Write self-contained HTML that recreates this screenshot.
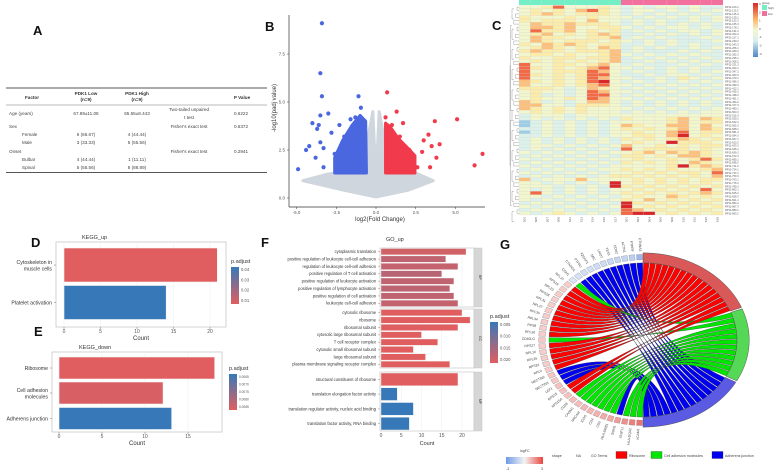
<!DOCTYPE html>
<html><head><meta charset="utf-8"><style>
html,body{margin:0;padding:0;background:#fff;}
svg{display:block;font-family:"Liberation Sans",sans-serif;}
</style></head><body>
<svg id="fig" width="774" height="471" viewBox="0 0 774 471">
<rect width="774" height="471" fill="#fff"/>
<g font-weight="bold" font-size="13" fill="#111">
<text x="33" y="35">A</text>
<text x="265" y="31">B</text>
<text x="492" y="30">C</text>
<text x="31" y="247">D</text>
<text x="34" y="336">E</text>
<text x="261" y="247">F</text>
<text x="500" y="249">G</text>
</g>
<g id="tableA" font-size="4.6" fill="#444">
<line x1="6" y1="88" x2="267" y2="88" stroke="#555" stroke-width="1"/>
<line x1="6" y1="105" x2="267" y2="105" stroke="#777" stroke-width="0.5"/>
<line x1="6" y1="172.5" x2="267" y2="172.5" stroke="#555" stroke-width="1"/>
<g font-weight="bold" text-anchor="middle" fill="#333">
<text x="32" y="99">Factor</text>
<text x="86" y="95">PDK1 Low</text><text x="86" y="101">(n=9)</text>
<text x="137" y="95">PDK1 High</text><text x="137" y="101">(n=9)</text>
<text x="242" y="99">P Value</text>
</g>
<text x="9" y="115">Age (years)</text><text x="86" y="115" text-anchor="middle">67.89±11.08</text><text x="137" y="115" text-anchor="middle">65.55±8.443</text><text x="189" y="111" text-anchor="middle">Two-tailed unpaired</text><text x="189" y="119" text-anchor="middle">t test</text><text x="241" y="115" text-anchor="middle">0.6222</text>
<text x="9" y="128">Sex</text><text x="189" y="128" text-anchor="middle">Fisher's exact test</text><text x="241" y="128" text-anchor="middle">0.6372</text>
<text x="22" y="136">Female</text><text x="86" y="136" text-anchor="middle">6 (66.67)</text><text x="137" y="136" text-anchor="middle">4 (44.44)</text>
<text x="22" y="144">Male</text><text x="86" y="144" text-anchor="middle">3 (33.33)</text><text x="137" y="144" text-anchor="middle">5 (55.56)</text>
<text x="9" y="153">Onset</text><text x="189" y="153" text-anchor="middle">Fisher's exact test</text><text x="241" y="153" text-anchor="middle">0.2941</text>
<text x="22" y="161">Bulbar</text><text x="86" y="161" text-anchor="middle">4 (44.44)</text><text x="137" y="161" text-anchor="middle">1 (11.11)</text>
<text x="22" y="169">Spinal</text><text x="86" y="169" text-anchor="middle">5 (55.56)</text><text x="137" y="169" text-anchor="middle">8 (88.89)</text>
</g>
<g id="volcano"></g>
<g id="heat"></g>
<g id="keggUp"></g>
<g id="keggDown"></g>
<g id="goUp"></g>
<g id="chord"></g>
</svg>
<script>
const volBlueX=[-3.4,-3.5,-3.4,-3.5,-3.0,-4.0,-3.6,-1.1,-0.95,-4.9,-4.4,-4.2,-3.7,-3.5,-3.3,-3.8,-3.3,-2.8,-2.3,-1.6,-2.6,-2.0,-1.3];
const volBlueY=[9.1,6.5,5.3,4.3,4.4,3.9,3.8,5.3,4.7,1.5,2.5,2.7,3.6,2.9,2.6,2.1,1.6,3.4,3.8,4.1,2.3,3.2,4.2];
const volRedX=[0.7,1.3,1.7,3.7,5.1,6.7,6.2,3.3,3.0,4.0,3.5,3.8,3.4,2.9,2.6,0.6,1.0,2.1,1.5];
const volRedY=[5.5,4.5,3.9,4.0,4.1,2.3,1.7,3.3,3.0,2.8,2.7,2.1,1.6,2.4,1.6,4.2,3.8,2.5,3.2];
const volGreyEnvX=[-4.6,-3,-2.5,-0.55,-0.45,-0.2,0,0.2,0.45,0.55,2.5,3.6,2,0,-2];
const volGreyEnvY=[0.9,1.25,1.3,1.3,3.4,4.5,1.0,4.5,3.4,1.3,1.3,0.9,0.4,0.05,0.4];
const volBlueEnvX=[-0.6,-2.6,-2.6,-2.1,-1.5,-1.0,-0.65];
const volBlueEnvY=[1.3,1.3,2.1,3.0,3.8,4.3,4.0];
const volRedEnvX=[0.6,2.45,2.45,2.0,1.4,0.9,0.6];
const volRedEnvY=[1.3,1.3,2.2,2.6,3.1,3.7,3.9];
const volXTicks=[-5,-2.5,0,2.5,5];
const volYTicks=[0,2.5,5,7.5];
const heatRows=["445744454343443433","454546754344343434","456545554343434343","544454544434343434","545554644343433434","465565554343434343","466564455434344343","475564545343434434","456454565334343434","465544556343433343","465455545434343334","546565455334343433","456545465343433434","565545556343334343","455454456434343433","544554556343434343","454545456334343434","744554564343334343","754545674434343433","744555764343343434","754545774334344343","744545764433435434","654545784343434343","644545674434343434","555434654343434343","454434764434343434","453434774343434343","454454764434343434","653434664343434343","664435554343434343","654545444434343434","454545444343434344","344434444444444444","343434343544456465","234343434444456455","234343434654466464","334343434545456465","234343434454467455","334343434455468454","343434343545456545","343434343454485554","344343434644545455","343434343745555454","434343434456465654","343434343554546654","434343434454454575","343434343545454654","434343434444458565","343434344545454456","434343434454545547","343434345545454546","634446444454545455","443434348454545454","444343438545454545","434343434454545474","474343434545454565","443434343454465454","434343434546454545","343434343854545454","434343434845454545","343434343764545454","434543434788454545"];
const heatGroups=["high","high","high","high","high","high","high","high","high","low","low","low","low","low","low","low","low","low"];
const heatColLabels=["S02","S05","S07","S08","S11","S13","S14","S16","S17","S01","S03","S04","S06","S09","S10","S12","S15","S18"];
const keggUpCats=["Cytoskeleton in|muscle cells","Platelet activation"];
const keggUpCounts=[21,14];
const keggUpPadj=[0.004,0.042];
const keggUpTicks=[0,5,10,15,20];
const keggDownCats=["Ribosome","Cell adhesion|molecules","Adherens junction"];
const keggDownCounts=[18.1,12.1,13.1];
const keggDownPadj=[0.0065,0.0066,0.0085];
const keggDownTicks=[0,5,10,15];
const goCats=["cytoplasmic translation","positive regulation of leukocyte cell-cell adhesion","regulation of leukocyte cell-cell adhesion","positive regulation of T cell activation","positive regulation of leukocyte activation","positive regulation of lymphocyte activation","positive regulation of cell activation","leukocyte cell-cell adhesion","cytosolic ribosome","ribosome","ribosomal subunit","cytosolic large ribosomal subunit","T cell receptor complex","cytosolic small ribosomal subunit","large ribosomal subunit","plasma membrane signaling receptor complex","structural constituent of ribosome","translation elongation factor activity","translation regulator activity, nucleic acid binding","translation factor activity, RNA binding"];
const goCounts=[21,16,19,15,18,17,18,19,20,22,19,10,14,8,11,17,19,4,8,7];
const goPadj=[0.003,0.005,0.0045,0.006,0.005,0.0055,0.005,0.0045,0.001,0.001,0.001,0.001,0.001,0.001,0.001,0.001,0.001,0.022,0.022,0.022];
const goOnt=["BP","BP","BP","BP","BP","BP","BP","BP","CC","CC","CC","CC","CC","CC","CC","CC","MF","MF","MF","MF"];
const goTicks=[0,5,10,15,20];
const chordGenes=["CTNNA3","PTPRF","ACTN1","CDH2","YES1","LMO7","SRC","IQGAP1","PTPRJ","CTNND1","CDH1","RPL37","RPS29","RPL23","RPS28","RPL31","RPL27","RPL35","RPL34","RPS8","RPL30","CD40LG","RPS27","RPL10","RPL26","RPS24","RPL9","NECTIN2","NECTIN3","LEF1","RPS15","RPS15A","CD28","CADM1","NRCAM","ICOS","CD4","CD2","HLA-DRB1","SNAI1","IGSF11","HLA-DQA2","VCAM1"];
const chordLogFC=[-2,-1.2,-1,-1,-0.9,-0.8,-0.8,-0.7,-0.7,-0.6,-0.5,0.6,0.6,0.6,0.6,0.6,0.6,0.6,0.6,0.6,0.6,0.7,0.6,0.6,0.6,0.6,0.6,0.7,0.7,0.8,0.8,0.8,0.9,0.9,1,1,1.1,1.2,1.3,1.5,1.7,2,2.2];
const chordTerm=[2,2,2,2,2,2,2,2,2,2,1,0,0,0,0,0,0,0,0,0,0,1,0,0,0,0,0,2,2,2,0,0,1,1,1,1,1,1,1,2,1,1,1];
const termNames=["Ribosome","Cell adhesion molecules","Adherens junction"];

const NS="http://www.w3.org/2000/svg";
function mk(parent,tag,attrs,text){const e=document.createElementNS(NS,tag);for(const k in attrs)e.setAttribute(k,attrs[k]);if(text!==undefined)e.textContent=text;parent.appendChild(e);return e;}
function lerp(a,b,t){return a+(b-a)*t;}
function mixHex(c1,c2,t){t=Math.max(0,Math.min(1,t));const p=h=>[1,3,5].map(i=>parseInt(h.substr(i,2),16));const a=p(c1),b=p(c2);return "rgb("+a.map((v,i)=>Math.round(lerp(v,b[i],t))).join(",")+")";}

(function(){
const g=document.getElementById('volcano');
const vx=v=>376+v*15.9, vy=v=>198-v*19.2;
const poly=(xs,ys,fill,name)=>{const el=mk(g,'polygon',{points:xs.map((x,i)=>vx(x)+","+vy(ys[i])).join(" "),fill:fill,stroke:fill,'stroke-width':3,'stroke-linejoin':'round'});

};
poly(volGreyEnvX,volGreyEnvY,'#cfd6dd','nonsignificant-cloud');
poly(volBlueEnvX,volBlueEnvY,'#4b67df','downregulated-cluster');
poly(volRedEnvX,volRedEnvY,'#f13a4b','upregulated-cluster');
volBlueX.forEach((x,i)=>{const c=mk(g,'circle',{cx:vx(x),cy:vy(volBlueY[i]),r:2.1,fill:'#4b67df'});

});
volRedX.forEach((x,i)=>{const c=mk(g,'circle',{cx:vx(x),cy:vy(volRedY[i]),r:2.1,fill:'#f13a4b'});

});
mk(g,'line',{x1:289,y1:15,x2:289,y2:207,stroke:'#333','stroke-width':0.7});
mk(g,'line',{x1:289,y1:207,x2:485,y2:207,stroke:'#333','stroke-width':0.7});
volXTicks.forEach(t=>{mk(g,'line',{x1:vx(t),y1:207,x2:vx(t),y2:209,stroke:'#333','stroke-width':0.5});
const tx=mk(g,'text',{x:vx(t),y:214,'font-size':4.5,'text-anchor':'middle',fill:'#555'},t.toFixed(1));

});
volYTicks.forEach(t=>{mk(g,'line',{x1:287,y1:vy(t),x2:289,y2:vy(t),stroke:'#333','stroke-width':0.5});
const tx=mk(g,'text',{x:285,y:vy(t)+1.5,'font-size':4.5,'text-anchor':'end',fill:'#555'},t.toFixed(1));

});
const xt=mk(g,'text',{x:380,y:221,'font-size':6,'text-anchor':'middle',fill:'#333'},'log2(Fold Change)');


const yt=mk(g,'text',{x:0,y:0,'font-size':6,'text-anchor':'middle',fill:'#333',transform:'translate(276,108) rotate(-90)'},'-log10(padj value)');


})();

(function(){
const g=document.getElementById('heat');
const x0=519,x1=723,y0=5.5,y1=215;
const cw=(x1-x0)/18, ch=(y1-y0)/heatRows.length;
const pal={"1":"#4f86c6","2":"#9ccde4","3":"#dcf1ea","4":"#f1f6cd","5":"#fbecaa","6":"#fcc07c","7":"#f26a45","8":"#d9262b"};
heatGroups.forEach((gr,j)=>{const r=mk(g,'rect',{x:x0+j*cw,y:0,width:cw,height:5,fill:gr==='high'?'#74eec4':'#f2709e'});

});
heatRows.forEach((row,i)=>{for(let j=0;j<18;j++){const r=mk(g,'rect',{x:x0+j*cw,y:y0+i*ch,width:cw,height:ch,fill:pal[row[j]],stroke:'#cfcfcf','stroke-width':0.2});

}
mk(g,'text',{x:x1+2,y:y0+i*ch+ch*0.8,'font-size':2.6,fill:'#555'},'RP11-'+(100+i*13)+'.'+(1+i%3));});
heatColLabels.forEach((l,j)=>{mk(g,'text',{x:0,y:0,'font-size':3,fill:'#555','text-anchor':'end',transform:`translate(${x0+j*cw+cw/2+1},${y1+2}) rotate(-90)`},l);});
let d="";for(let i=0;i<heatRows.length;i+=2){const ya=y0+i*ch+ch/2,yb=ya+ch;const xl=517-(i%6)*0.8;d+=`M519 ${ya}H${xl}V${yb}H519`;}
for(let i=0;i<heatRows.length;i+=6){const ya=y0+i*ch+ch,yb=ya+ch*3;d+=`M514 ${ya}H512V${yb}H514`;}
d+=`M512 ${y0+20}H510.5V${y0+105}H512M512 ${y0+115}H510.5V${y0+200}H512M510.5 ${y0+60}H510V${y0+160}H510.5`;
mk(g,'path',{d:d,fill:'none',stroke:'#777','stroke-width':0.35});
const defs=mk(g,'defs',{});const lg=mk(defs,'linearGradient',{id:'hmg',x1:0,y1:0,x2:0,y2:1});
[["0","#d9262b"],["0.3","#fdb46a"],["0.5","#f2f7cf"],["0.7","#d9f0ef"],["1","#4f86c6"]].forEach(s=>mk(lg,'stop',{offset:s[0],'stop-color':s[1]}));
mk(g,'rect',{x:753,y:3,width:5,height:54,fill:'url(#hmg)'});
["3","2","1","0","-1","-2","-3"].forEach((t,i)=>mk(g,'text',{x:759,y:5+i*8.3,'font-size':3,fill:'#444'},t));
mk(g,'text',{x:762,y:4,'font-size':3,fill:'#444'},'group');
mk(g,'rect',{x:762,y:5,width:5,height:5,fill:'#74eec4'});mk(g,'text',{x:768,y:9,'font-size':3,fill:'#444'},'high');
mk(g,'rect',{x:762,y:11,width:5,height:5,fill:'#f2709e'});mk(g,'text',{x:768,y:15,'font-size':3,fill:'#444'},'low');
})();

const RED="#e05e5f", BLUE="#3779b8";
function barChart(g,o){
mk(g,'rect',{x:o.bx0,y:o.by0,width:o.bx1-o.bx0,height:o.by1-o.by0,fill:'#fff',stroke:'#c8c8c8','stroke-width':0.8});
const sx=v=>o.x0+v*o.ppu;
o.ticks.forEach(t=>{mk(g,'line',{x1:sx(t),y1:o.by0,x2:sx(t),y2:o.by1,stroke:'#ececec','stroke-width':0.5});
mk(g,'line',{x1:sx(t),y1:o.by1,x2:sx(t),y2:o.by1+2,stroke:'#555','stroke-width':0.4});
const tl=mk(g,'text',{x:sx(t),y:o.by1+6,'font-size':5,'text-anchor':'middle',fill:'#555'},String(t));

});
o.cats.forEach((c,i)=>{const cy=o.rowY[i];
const b=mk(g,'rect',{x:sx(0),y:cy-o.bh/2,width:sx(o.counts[i])-sx(0),height:o.bh,fill:mixHex(RED,BLUE,(o.padj[i]-o.pmin)/(o.pmax-o.pmin)),stroke:'#f3f3f3','stroke-width':0.6});


const lines=c.split('|');lines.forEach((ln,k)=>{const t=mk(g,'text',{x:o.bx0-4,y:cy+2+(k-(lines.length-1)/2)*6.5,'font-size':o.fs,'text-anchor':'end',fill:'#333'},ln);

});
mk(g,'line',{x1:o.bx0-2,y1:cy,x2:o.bx0,y2:cy,stroke:'#555','stroke-width':0.4});});
const ct=mk(g,'text',{x:(o.bx0+o.bx1)/2,y:o.by1+13,'font-size':6,'text-anchor':'middle',fill:'#333'},'Count');


const tt=mk(g,'text',{x:o.titleX,y:o.by0-3,'font-size':5.5,fill:'#333'},o.title);


}
function colorLegend(g,x,y,h,labels,id){
const defs=mk(g,'defs',{});const lg=mk(defs,'linearGradient',{id:id,x1:0,y1:0,x2:0,y2:1});
mk(lg,'stop',{offset:'0','stop-color':BLUE});mk(lg,'stop',{offset:'1','stop-color':RED});
const t=mk(g,'text',{x:x,y:y-4,'font-size':5.5,fill:'#333'},'p.adjust');


mk(g,'rect',{x:x,y:y,width:8,height:h,fill:'url(#'+id+')'});
labels.forEach((l,i)=>mk(g,'text',{x:x+10,y:y+4+i*(h-6)/(labels.length-1),'font-size':labels[0].length>5?3.2:4.2,fill:'#555'},l));
}
barChart(document.getElementById('keggUp'),{bx0:56,bx1:226,by0:242,by1:327,x0:64,ppu:7.3,ticks:keggUpTicks,cats:keggUpCats,counts:keggUpCounts,padj:keggUpPadj,pmin:0.005,pmax:0.04,rowY:[265,302.5],bh:34,fs:5.2,title:'KEGG_up',titleX:82});
colorLegend(document.getElementById('keggUp'),231,267,37,["0.04","0.03","0.02","0.01"],'gd');
barChart(document.getElementById('keggDown'),{bx0:52,bx1:222,by0:352,by1:432,x0:59,ppu:8.6,ticks:keggDownTicks,cats:keggDownCats,counts:keggDownCounts,padj:keggDownPadj,pmin:0.0065,pmax:0.0085,rowY:[368,393,418.5],bh:22,fs:5.2,title:'KEGG_down',titleX:79});
colorLegend(document.getElementById('keggDown'),229,374,36,["0.0065","0.0070","0.0075","0.0080","0.0085"],'ge');

(function(){
const g=document.getElementById('goUp');
const fx=v=>381+v*4.05;
const panels={BP:[248,307],CC:[309,368],MF:[372,431]};
Object.keys(panels).forEach(k=>{const [a,b]=panels[k];
mk(g,'rect',{x:380,y:a,width:94,height:b-a,fill:'#fff',stroke:'#c8c8c8','stroke-width':0.7});
goTicks.forEach(t=>mk(g,'line',{x1:fx(t),y1:a,x2:fx(t),y2:b,stroke:'#ececec','stroke-width':0.5}));
const s=mk(g,'rect',{x:474,y:a,width:8,height:b-a,fill:'#d6d6d6',stroke:'#c8c8c8','stroke-width':0.5});


mk(g,'text',{x:0,y:0,'font-size':3.5,'text-anchor':'middle',fill:'#333',transform:`translate(479,${(a+b)/2}) rotate(90)`},k);});
const idx={BP:0,CC:0,MF:0};
goCats.forEach((c,i)=>{const o=goOnt[i];const [a,b]=panels[o];const n=goOnt.filter(z=>z===o).length;const step=(b-a)/n;const cy=a+step*(idx[o]+0.5);idx[o]++;
const bh=step*0.86;
const r=mk(g,'rect',{x:fx(0),y:cy-bh/2,width:fx(goCounts[i])-fx(0),height:bh,fill:mixHex(RED,BLUE,(goPadj[i]-0.001)/0.021),stroke:'#f3f3f3','stroke-width':0.4});


const t=mk(g,'text',{x:376,y:cy+1.4,'font-size':4.1,'text-anchor':'end',fill:'#333'},c);


mk(g,'line',{x1:378,y1:cy,x2:380,y2:cy,stroke:'#555','stroke-width':0.3});});
goTicks.forEach(t=>{mk(g,'text',{x:fx(t),y:437,'font-size':5,'text-anchor':'middle',fill:'#555'},String(t));});
mk(g,'text',{x:427,y:445,'font-size':5.5,'text-anchor':'middle',fill:'#333'},'Count');
mk(g,'text',{x:386,y:241,'font-size':5.5,fill:'#333'},'GO_up');
colorLegend(g,490,322,41,["0.005","0.010","0.015","0.020"],'gf');
})();

(function(){
const g=document.getElementById('chord');
const cx=643,cy=340,R=94,K=0.82;
const P=(deg,r)=>{const a=deg*Math.PI/180;return [cx+R*r*Math.cos(a),cy+R*K*r*Math.sin(a)];};
const arcPts=(d1,d2,r)=>{const n=Math.max(2,Math.ceil(Math.abs(d2-d1)/2));const pts=[];for(let i=0;i<=n;i++)pts.push(P(d1+(d2-d1)*i/n,r));return pts;};
const termCol=["#ff0000","#00e600","#0000f0"];
const ringCol=["#d95858","#55d855","#5a5ae2"];
const termSpan=[[-90,-22],[-21,28],[29,90]];
const nG=chordGenes.length, gStep=(268-92)/(nG-1);
const gAng=i=>268-i*gStep;
const counts=[0,0,0];chordTerm.forEach(t=>counts[t]++);
const used=[0,0,0];
chordGenes.forEach((gn,i)=>{const t=chordTerm[i];const [s,e]=termSpan[t];const w=(e-s)/counts[t];
const b1=s+w*used[t]+0.3, b2=s+w*(used[t]+1)-0.3;used[t]++;
const a1=gAng(i)+gStep*0.42,a2=gAng(i)-gStep*0.42;
const pa1=P(a1,1),pa2=P(a2,1),pb1=P(b1,1),pb2=P(b2,1);
const d=`M${pa1}L${pa2}Q${cx},${cy} ${pb1}L${pb2}Q${cx},${cy} ${pa1}Z`;
const p=mk(g,'path',{d:d,fill:termCol[t],stroke:'#3a3a3a','stroke-width':0.35});

});
termSpan.forEach((s,t)=>{const pts=arcPts(s[0],s[1],1.0).concat(arcPts(s[1],s[0],1.13));
const p=mk(g,'polygon',{points:pts.map(q=>q.join(",")).join(" "),fill:ringCol[t],stroke:'#555','stroke-width':0.5});

});
chordGenes.forEach((gn,i)=>{const a=gAng(i),h=gStep*0.38;
const pts=[P(a-h,1.04),P(a+h,1.04),P(a+h,1.11),P(a-h,1.11)];
const fc=chordLogFC[i];const col=fc<0?mixHex("#f0f4fb","#6f9ae6",-fc/3):mixHex("#fbeeee","#e8473f",fc/3);
const b=mk(g,'polygon',{points:pts.map(q=>q.join(",")).join(" "),fill:col,stroke:'#777','stroke-width':0.3});


const lp=P(a,1.15);
const t=mk(g,'text',{x:0,y:0,'font-size':3.4,'text-anchor':'end',fill:'#444',transform:`translate(${lp[0]},${lp[1]}) rotate(${a-180})`},gn);

});
const defs=mk(g,'defs',{});const lg=mk(defs,'linearGradient',{id:'gfc',x1:0,y1:0,x2:1,y2:0});
mk(lg,'stop',{offset:'0','stop-color':'#6f9ae6'});mk(lg,'stop',{offset:'0.5','stop-color':'#f4f4f4'});mk(lg,'stop',{offset:'1','stop-color':'#e8473f'});
mk(g,'text',{x:520,y:452,'font-size':3.6,fill:'#444'},'logFC');
mk(g,'rect',{x:506,y:457,width:37,height:7,fill:'url(#gfc)'});
mk(g,'text',{x:506,y:470,'font-size':3.6,fill:'#444'},'-3');
mk(g,'text',{x:541,y:470,'font-size':3.6,fill:'#444'},'3');
mk(g,'text',{x:552,y:457,'font-size':3.6,fill:'#444'},'shape');
mk(g,'text',{x:576,y:457,'font-size':3.6,fill:'#444'},'NA');
mk(g,'text',{x:591,y:457,'font-size':3.6,fill:'#444'},'GO Terms');
[[616,"Ribosome"],[651,"Cell adhesion molecules"],[712,"Adherens junction"]].forEach((e,t)=>{
const r=mk(g,'rect',{x:e[0],y:451.5,width:11,height:7,fill:termCol[t],stroke:'#333','stroke-width':0.3});


mk(g,'text',{x:e[0]+13,y:457,'font-size':3.6,fill:'#444'},e[1]);});
})();
</script>
</body></html>
